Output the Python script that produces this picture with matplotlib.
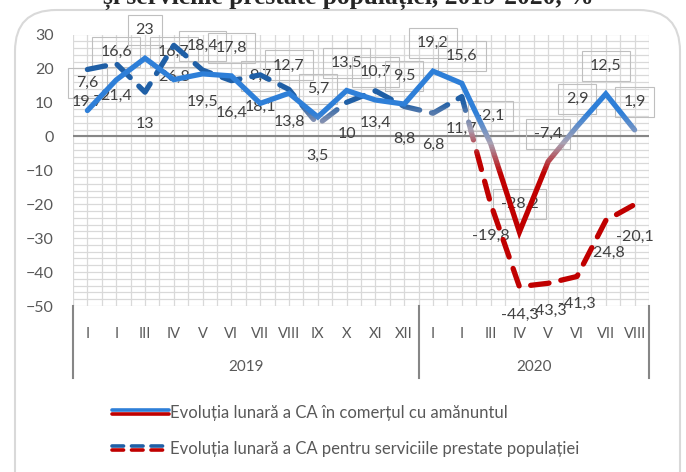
import numpy as np
import matplotlib
matplotlib.use("Agg")
import matplotlib.pyplot as plt
from matplotlib.colors import LinearSegmentedColormap
from matplotlib.lines import Line2D
from matplotlib.patches import Rectangle, FancyBboxPatch

months = ["I", "I", "III", "IV", "V", "VI", "VII", "VIII", "IX", "X", "XI", "XII",
          "I", "I", "III", "IV", "V", "VI", "VII", "VIII"]
years = ["2019", "2020"]
year_sizes = [12, 8]
retail = [7.6, 16.6, 23, 16.7, 18.4, 17.8, 9.7, 12.7, 5.7, 13.5, 10.7, 9.5,
          19.2, 15.6, -2.1, -28.2, -7.4, 2.9, 12.5, 1.9]
services = [19.7, 21.4, 13, 26.8, 19.5, 16.4, 18.1, 13.8, 3.5, 10, 13.4, 8.8,
            6.8, 11.7, -19.8, -44.3, -43.3, -41.3, -24.8, -20.1]
name_retail = "Evoluția lunară a CA în comerțul cu amănuntul"
name_services = "Evoluția lunară a CA pentru serviciile prestate populației"
title = "și serviciile prestate populației, 2019-2020, %"

plt.rcParams["font.family"] = ["Lato", "DejaVu Sans"]
TXT = "#404040"
GRID = "#D9D9D9"
BLUE1 = "#2E7FD8"
BLUE2 = "#1F5FA6"
RED = "#C00000"


def fmt(v):
    return f"{v:g}".replace(".", ",")


def gradient_line(ax, x, y, top, bottom, blue, **kw):
    # draw the same line in thin horizontal bands, each clipped and coloured
    cmap = LinearSegmentedColormap.from_list("g", [RED, "#A8A2B4", blue])
    edges = np.linspace(bottom, top, 40)
    bands = [(-60, bottom, 0.0)]
    for lo, hi in zip(edges[:-1], edges[1:]):
        bands.append((lo, hi, (0.5 * (lo + hi) - bottom) / (top - bottom)))
    bands.append((top, 40, 1.0))
    for lo, hi, t in bands:
        ln, = ax.plot(x, y, color=cmap(t), zorder=4, **kw)
        clip = Rectangle((-1, lo), 30, hi - lo, transform=ax.transData)
        ln.set_clip_path(clip)


fig = plt.figure(figsize=(6.86, 4.72), dpi=100)
ax = fig.add_axes([73 / 686, 1 - 306 / 472, (649 - 73) / 686, (306 - 34.5) / 472])

# chart frame and cut-off title
fig.patches.append(FancyBboxPatch((15 / 686, -0.1), 665 / 686, 1.1 - 10 / 472,
                                  transform=fig.transFigure,
                                  boxstyle="round,pad=0,rounding_size=0.06", fc="none",
                                  ec="#D9D9D9", lw=1.5, mutation_aspect=686 / 472))
fig.text(348 / 686, 1 - 4 / 472, title, ha="center", va="baseline", fontsize=18.4,
         fontweight="bold", family="Liberation Serif", color="#262626")

n = len(months)
x = np.arange(n)

ax.set_xlim(-0.5, n - 0.5)
ax.set_ylim(-50, 30)
ax.set_yticks(np.arange(-50, 31, 10))
ax.set_yticks(np.arange(-50, 31, 2), minor=True)
ax.set_xticks(np.arange(-0.5, n, 0.5), minor=True)
ax.set_xticks(x)
ax.set_xticklabels(months)
ax.grid(True, which="both", color=GRID, lw=0.9, zorder=0)
ax.set_axisbelow(True)
ax.tick_params(which="both", length=0)
ax.tick_params(axis="y", labelsize=11.5, labelcolor="#595959", pad=14)
ax.tick_params(axis="x", labelsize=10.5, labelcolor="#595959", pad=15)
for s in ax.spines.values():
    s.set_visible(False)
ax.axhline(0, color="#868686", lw=1.5, zorder=2)

# year level of the category axis
bounds = np.concatenate([[0], np.cumsum(year_sizes)]) - 0.5
for b in bounds:
    ax.plot([b, b], [0, -0.265], transform=ax.get_xaxis_transform(), color="#868686",
            lw=1.5, clip_on=False)
for i, yr in enumerate(years):
    ax.text((bounds[i] + bounds[i + 1]) / 2, -0.225, yr, transform=ax.get_xaxis_transform(),
            ha="center", va="center", fontsize=11, color="#595959")

gradient_line(ax, x, services, 10, -6, BLUE2, lw=3.8, dashes=(3.5, 2.3),
              dash_capstyle="round", solid_capstyle="round")
gradient_line(ax, x, retail, 7, -11, BLUE1, lw=3.8, solid_capstyle="round",
              solid_joinstyle="miter")

for xi, v in zip(x, retail):
    ax.annotate(fmt(v), (xi, v), xytext=(0, 20), textcoords="offset points", ha="center",
                va="center", fontsize=11.5, color=TXT, zorder=3,
                bbox=dict(boxstyle="square,pad=0.5", fc="none", ec="#BFBFBF", lw=0.8))
for xi, v in zip(x, services):
    dy = -20 if v < -30 else -23
    ax.annotate(fmt(v), (xi, v), xytext=(0, dy), textcoords="offset points", ha="center",
                va="center", fontsize=11.5, color=TXT, zorder=3, annotation_clip=False)


class TwoTone:
    def __init__(self, dashed):
        self.dashed = dashed

    def legend_artist(self, legend, orig_handle, fontsize, handlebox):
        x0, y0 = handlebox.xdescent, handlebox.ydescent
        w, h = handlebox.width, handlebox.height
        kw = dict(lw=2.6, solid_capstyle="round", dash_capstyle="round")
        if self.dashed:
            kw["dashes"] = (3.2, 2.2)
        arts = []
        for yy, c in ((y0 + h * 0.5 + 1.3, BLUE1 if not self.dashed else BLUE2),
                      (y0 + h * 0.5 - 1.3, RED)):
            ln = Line2D([x0, x0 + w], [yy, yy], color=c, **kw)
            ln.set_transform(handlebox.get_transform())
            handlebox.add_artist(ln)
            arts.append(ln)
        return arts[0]


h1 = Line2D([], [])
h2 = Line2D([], [])
fig.legend([h1, h2], [name_retail, name_services], loc="center left",
           bbox_to_anchor=(97 / 686, 1 - 431 / 472), frameon=False, fontsize=12,
           labelcolor="#595959", handlelength=3.4, handletextpad=0.1, labelspacing=1.2,
           handler_map={h1: TwoTone(False), h2: TwoTone(True)})

fig.savefig("out.png", dpi=100)
